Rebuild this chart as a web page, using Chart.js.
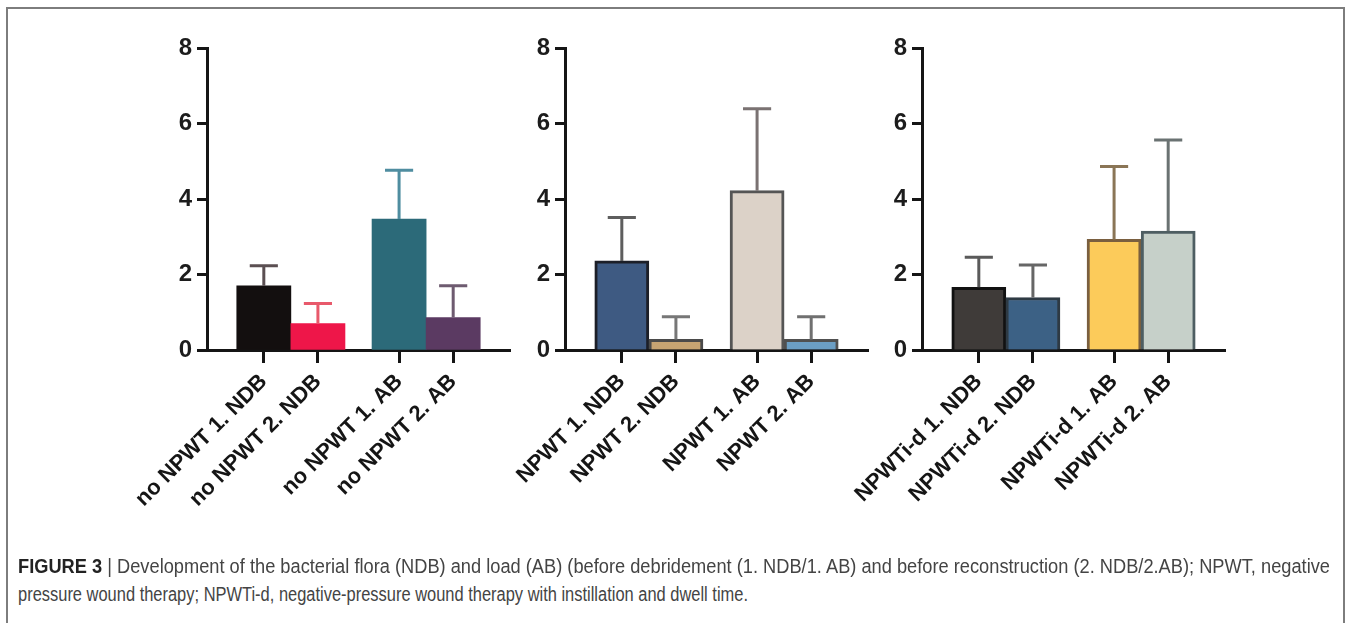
<!DOCTYPE html>
<html><head><meta charset="utf-8">
<script src="https://cdn.jsdelivr.net/npm/chart.js@4.4.1/dist/chart.umd.min.js"></script>
<style>
html,body{margin:0;padding:0;background:#fff;width:1349px;height:623px;overflow:hidden;position:relative;}
#frame{position:absolute;left:6px;top:7px;width:1335px;height:640px;border:2px solid #7d7d7d;border-bottom:none;}
canvas{position:absolute;top:0;}
.cap{position:absolute;left:18px;white-space:nowrap;font-family:"Liberation Sans Narrow","Liberation Sans",Arial,sans-serif;font-size:20px;color:#444;transform-origin:0 0;}
.cap b{color:#222;}
</style></head><body>
<div id="frame"></div>
<canvas id="c1" width="430" height="560" style="left:100px"></canvas>
<canvas id="c2" width="430" height="560" style="left:458px"></canvas>
<canvas id="c3" width="430" height="560" style="left:815px"></canvas>
<div class="cap" id="l1" style="top:555px"><b>FIGURE 3</b> | Development of the bacterial flora (NDB) and load (AB) (before debridement (1. NDB/1. AB) and before reconstruction (2. NDB/2.AB); NPWT, negative</div>
<div class="cap" id="l2" style="top:583px">pressure wound therapy; NPWTi-d, negative-pressure wound therapy with instillation and dwell time.</div>
<script>
// ---- data ----
const labels1 = ["no NPWT 1. NDB", "no NPWT 2. NDB", "no NPWT 1. AB", "no NPWT 2. AB"];
const means1  = [1.70, 0.70, 3.47, 0.86];
const sd1     = [0.53, 0.53, 1.29, 0.84];

const labels2 = ["NPWT 1. NDB", "NPWT 2. NDB", "NPWT 1. AB", "NPWT 2. AB"];
const means2  = [2.36, 0.28, 4.22, 0.28];
const sd2     = [1.15, 0.60, 2.17, 0.60];

const labels3 = ["NPWTi-d 1. NDB", "NPWTi-d 2. NDB", "NPWTi-d 1. AB", "NPWTi-d 2. AB"];
const means3  = [1.66, 1.39, 2.93, 3.15];
const sd3     = [0.80, 0.86, 1.93, 2.41];

const yTicks = [0, 2, 4, 6, 8];

// ---- styles ----
const panels = [
  {id:'c1', labels:labels1, means:means1, sd:sd1,
   fill:['#130f0f','#ee1649','#2c6a79','#5b3a62'],
   border:['#130f0f','#ee1649','#2c6a79','#5b3a62'], bw:0,
   err:['#5b4f52','#e8596b','#4f8da0','#6e5b70']},
  {id:'c2', labels:labels2, means:means2, sd:sd2,
   fill:['#3e5a82','#c7a472','#dcd2c8','#6b9ec4'],
   border:['#1c1f28','#4a4a4a','#555555','#505050'], bw:3,
   err:['#5e5e5e','#777777','#7a7272','#707070']},
  {id:'c3', labels:labels3, means:means3, sd:sd3,
   fill:['#3f3b39','#3c6185','#fccb5a','#c6d0c9'],
   border:['#111111','#2e3a44','#7a5f3f','#4e5e62'], bw:3,
   err:['#5a5a5a','#666666','#8a7556','#6a7272']}
];

const slot = i => i + 1 + (i >= 2 ? 0.5 : 0);

const errorBars = {
  id:'errorBars',
  afterDatasetsDraw(chart){
    const ctx = chart.ctx, ys = chart.scales.y;
    chart.data.datasets.forEach((ds, di) => {
      chart.getDatasetMeta(di).data.forEach((bar, i) => {
        const top = ys.getPixelForValue(ds.data[i].y + ds.errors[i]);
        const cap = bar.width * 0.52;
        ctx.save();
        ctx.strokeStyle = ds.errorColors[i];
        ctx.lineWidth = 3;
        ctx.beginPath();
        ctx.moveTo(bar.x, bar.y); ctx.lineTo(bar.x, top);
        ctx.moveTo(bar.x - cap/2, top); ctx.lineTo(bar.x + cap/2, top);
        ctx.stroke();
        ctx.restore();
      });
    });
  }
};

const FONT = '"Liberation Sans", Arial, sans-serif';

panels.forEach(p => {
  const pos = p.labels.map((_, i) => slot(i));
  new Chart(document.getElementById(p.id), {
    type:'bar',
    data:{
      datasets:[{
        data:p.means.map((v,i)=>({x:pos[i], y:v})),
        errors:p.sd,
        errorColors:p.err,
        backgroundColor:p.fill,
        borderColor:p.border,
        borderWidth:p.bw,
        borderSkipped:'bottom',
        barPercentage:1,
        categoryPercentage:1
      }]
    },
    options:{
      responsive:false,
      animation:false,
      events:[],
      layout:{padding:{top:48,right:20,bottom:0,left:0}},
      plugins:{legend:{display:false},tooltip:{enabled:false}},
      scales:{
        x:{
          type:'linear', min:-0.05, max:5.55, offset:false,
          afterBuildTicks:s=>{ s.ticks = pos.map(v=>({value:v})); },
          afterFit:s=>{ s.height = 210; s.paddingLeft = 0; s.paddingRight = 0; },
          grid:{display:true, offset:false, drawOnChartArea:false, drawTicks:true, tickLength:13, tickWidth:3, tickColor:'#151515'},
          border:{display:true, width:3, color:'#151515'},
          ticks:{
            autoSkip:false, minRotation:45, maxRotation:45, padding:6,
            color:'#151515', font:{family:FONT, size:22, weight:'bold'},
            callback:v=>{ const k = pos.indexOf(v); return k >= 0 ? p.labels[k] : ''; }
          }
        },
        y:{
          min:0, max:8,
          afterBuildTicks:s=>{ s.ticks = yTicks.map(v=>({value:v})); },
          afterFit:s=>{ s.width = 107; s.paddingTop = 0; s.paddingBottom = 0; },
          grid:{display:true, drawOnChartArea:false, drawTicks:true, tickLength:10, tickWidth:3, tickColor:'#151515'},
          border:{display:true, width:3, color:'#151515'},
          ticks:{padding:5, color:'#1c1c1c', font:{family:FONT, size:24, weight:'bold'}}
        }
      }
    },
    plugins:[errorBars]
  });
});

// fit caption lines to reference widths
function fit(id, w){
  const el = document.getElementById(id);
  const cw = el.getBoundingClientRect().width;
  el.style.transform = 'scaleX(' + (w / cw) + ')';
}
fit('l1', 1312);
fit('l2', 730);
</script>
</body></html>
